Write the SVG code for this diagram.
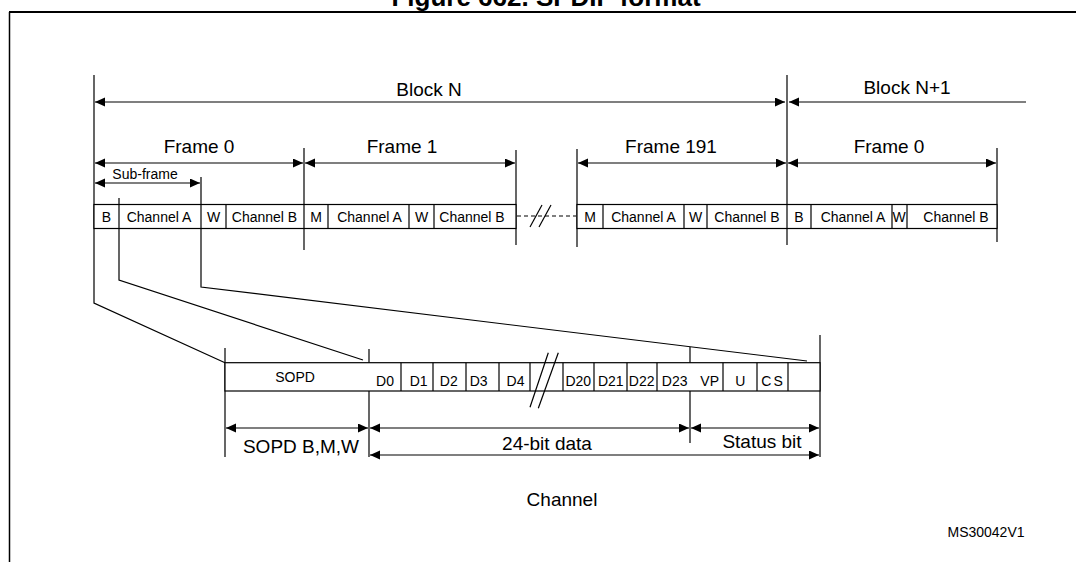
<svg xmlns="http://www.w3.org/2000/svg" width="1076" height="562" viewBox="0 0 1076 562">
<style>
.t{font-family:"Liberation Sans",Arial,sans-serif;fill:#000;}
.big{font-size:19px;}
.sm{font-size:14px;}
.ln{stroke:#000;stroke-width:1.2;fill:none;}
.box{stroke:#000;stroke-width:1.2;fill:#fff;}
.arr{stroke:#000;stroke-width:1.2;fill:none;}
</style>
<defs>
<marker id="ah" markerUnits="userSpaceOnUse" markerWidth="11" markerHeight="10" refX="10" refY="4.5" orient="auto-start-reverse" viewBox="0 0 11 10">
<path d="M0,0 L10,4.5 L0,9 z" fill="#000"/>
</marker>
</defs>
<rect width="1076" height="562" fill="#fff"/>
<g id="frame-border">
<line x1="9" y1="12" x2="1076" y2="12" stroke="#000" stroke-width="2.2"/>
<line x1="9.5" y1="12" x2="9.5" y2="562" stroke="#000" stroke-width="1.5"/>
<text class="t" x="546" y="6" font-size="26" font-weight="bold" text-anchor="middle">Figure 662. SPDIF format</text>
</g>
<g id="connectors">
<polyline class="ln" points="94,75 94,303 225,362.7"/>
<polyline class="ln" points="119,198 119,280 363,360"/>
<polyline class="ln" points="201,177 201,287 807,361"/>
<line class="ln" x1="304" y1="148" x2="304" y2="250"/>
<line class="ln" x1="516" y1="150" x2="516" y2="245"/>
<line class="ln" x1="577" y1="149" x2="577" y2="247"/>
<line class="ln" x1="787" y1="75" x2="787" y2="245"/>
<line class="ln" x1="997" y1="148" x2="997" y2="242"/>
<line class="ln" x1="225" y1="348" x2="225" y2="457"/>
<line class="ln" x1="369" y1="349" x2="369" y2="457"/>
<line class="ln" x1="690" y1="347" x2="690" y2="443"/>
<line class="ln" x1="820" y1="335" x2="820" y2="457"/>
<line class="arr" x1="95" y1="102" x2="785" y2="102" marker-start="url(#ah)" marker-end="url(#ah)"/>
<line class="arr" x1="789" y1="102" x2="1026" y2="102" marker-start="url(#ah)"/>
<line class="arr" x1="95" y1="163" x2="303" y2="163" marker-start="url(#ah)" marker-end="url(#ah)"/>
<line class="arr" x1="305" y1="163" x2="515" y2="163" marker-start="url(#ah)" marker-end="url(#ah)"/>
<line class="arr" x1="578" y1="163" x2="786" y2="163" marker-start="url(#ah)" marker-end="url(#ah)"/>
<line class="arr" x1="788" y1="163" x2="996" y2="163" marker-start="url(#ah)" marker-end="url(#ah)"/>
<line class="arr" x1="95" y1="183" x2="200" y2="183" marker-start="url(#ah)" marker-end="url(#ah)"/>
<line class="arr" x1="226" y1="428" x2="368" y2="428" marker-start="url(#ah)" marker-end="url(#ah)"/>
<line class="arr" x1="370" y1="428" x2="689" y2="428" marker-start="url(#ah)" marker-end="url(#ah)"/>
<line class="arr" x1="691" y1="428" x2="819" y2="428" marker-start="url(#ah)" marker-end="url(#ah)"/>
<line class="arr" x1="370" y1="455" x2="819" y2="455" marker-start="url(#ah)" marker-end="url(#ah)"/>
<line x1="517" y1="216" x2="576" y2="216" stroke="#000" stroke-width="1.2" stroke-dasharray="4 3"/>
<line class="ln" x1="542" y1="205" x2="530" y2="227"/>
<line class="ln" x1="551" y1="205" x2="539" y2="227"/>
</g>
<g id="labels">
<text class="t big" x="429" y="96" text-anchor="middle">Block N</text>
<text class="t big" x="907" y="94" text-anchor="middle">Block N+1</text>
<text class="t big" x="199" y="153" text-anchor="middle">Frame 0</text>
<text class="t big" x="402" y="153" text-anchor="middle">Frame 1</text>
<text class="t big" x="671" y="153" text-anchor="middle">Frame 191</text>
<text class="t big" x="889" y="153" text-anchor="middle">Frame 0</text>
<text class="t sm" x="145" y="179" text-anchor="middle">Sub-frame</text>
<text class="t big" x="301" y="453" text-anchor="middle">SOPD B,M,W</text>
<text class="t big" x="547" y="450" text-anchor="middle">24-bit data</text>
<text class="t big" x="762" y="448" text-anchor="middle">Status bit</text>
<text class="t big" x="562" y="506" text-anchor="middle">Channel</text>
<text class="t sm" x="986" y="537" text-anchor="middle">MS30042V1</text>
</g>
<g id="frames-row">
<rect class="box" x="94" y="204.5" width="422" height="24"/>
<rect class="box" x="577" y="204.5" width="420" height="24"/>
<g class="ln">
<line x1="119" y1="204.5" x2="119" y2="228.5"/>
<line x1="201" y1="204.5" x2="201" y2="228.5"/>
<line x1="226" y1="204.5" x2="226" y2="228.5"/>
<line x1="304" y1="204.5" x2="304" y2="228.5"/>
<line x1="328" y1="204.5" x2="328" y2="228.5"/>
<line x1="409" y1="204.5" x2="409" y2="228.5"/>
<line x1="434" y1="204.5" x2="434" y2="228.5"/>
<line x1="603" y1="204.5" x2="603" y2="228.5"/>
<line x1="684" y1="204.5" x2="684" y2="228.5"/>
<line x1="707" y1="204.5" x2="707" y2="228.5"/>
<line x1="787" y1="204.5" x2="787" y2="228.5"/>
<line x1="811" y1="204.5" x2="811" y2="228.5"/>
<line x1="892" y1="204.5" x2="892" y2="228.5"/>
<line x1="907" y1="204.5" x2="907" y2="228.5"/>
</g>
<g class="t sm" text-anchor="middle">
<text x="106.5" y="222">B</text>
<text x="159" y="222">Channel A</text>
<text x="213.5" y="222">W</text>
<text x="264.5" y="222">Channel B</text>
<text x="316" y="222">M</text>
<text x="369.5" y="222">Channel A</text>
<text x="421.5" y="222">W</text>
<text x="472" y="222">Channel B</text>
<text x="590" y="222">M</text>
<text x="643.5" y="222">Channel A</text>
<text x="695.5" y="222">W</text>
<text x="747" y="222">Channel B</text>
<text x="799" y="222">B</text>
<text x="853" y="222">Channel A</text>
<text x="899" y="222">W</text>
<text x="956" y="222">Channel B</text>
</g>
</g>
<g id="channel-row">
<rect class="box" x="225" y="362.7" width="595" height="28.3"/>
<g class="ln">
<line x1="401" y1="362.7" x2="401" y2="391"/>
<line x1="433" y1="362.7" x2="433" y2="391"/>
<line x1="466" y1="362.7" x2="466" y2="391"/>
<line x1="499" y1="362.7" x2="499" y2="391"/>
<line x1="530" y1="362.7" x2="530" y2="391"/>
<line x1="563" y1="362.7" x2="563" y2="391"/>
<line x1="594" y1="362.7" x2="594" y2="391"/>
<line x1="627" y1="362.7" x2="627" y2="391"/>
<line x1="657" y1="362.7" x2="657" y2="391"/>
<line x1="723" y1="362.7" x2="723" y2="391"/>
<line x1="757" y1="362.7" x2="757" y2="391"/>
<line x1="788" y1="362.7" x2="788" y2="391"/>
<line x1="548.3" y1="352.7" x2="530" y2="407.3"/>
<line x1="558.3" y1="352.7" x2="538.3" y2="408.3"/>
</g>
<g class="t sm" text-anchor="middle">
<text x="295" y="382">SOPD</text>
<text x="385" y="385.5">D0</text>
<text x="418.7" y="385.5">D1</text>
<text x="448.8" y="385.5">D2</text>
<text x="478.7" y="385.5">D3</text>
<text x="515.5" y="385.5">D4</text>
<text x="578.3" y="385.5">D20</text>
<text x="610.8" y="385.5">D21</text>
<text x="641.7" y="385.5">D22</text>
<text x="674.7" y="385.5">D23</text>
<text x="709.7" y="385.5">VP</text>
<text x="740.3" y="385.5">U</text>
<text x="773" y="385.5" letter-spacing="2">CS</text>
</g>
</g>
</svg>
